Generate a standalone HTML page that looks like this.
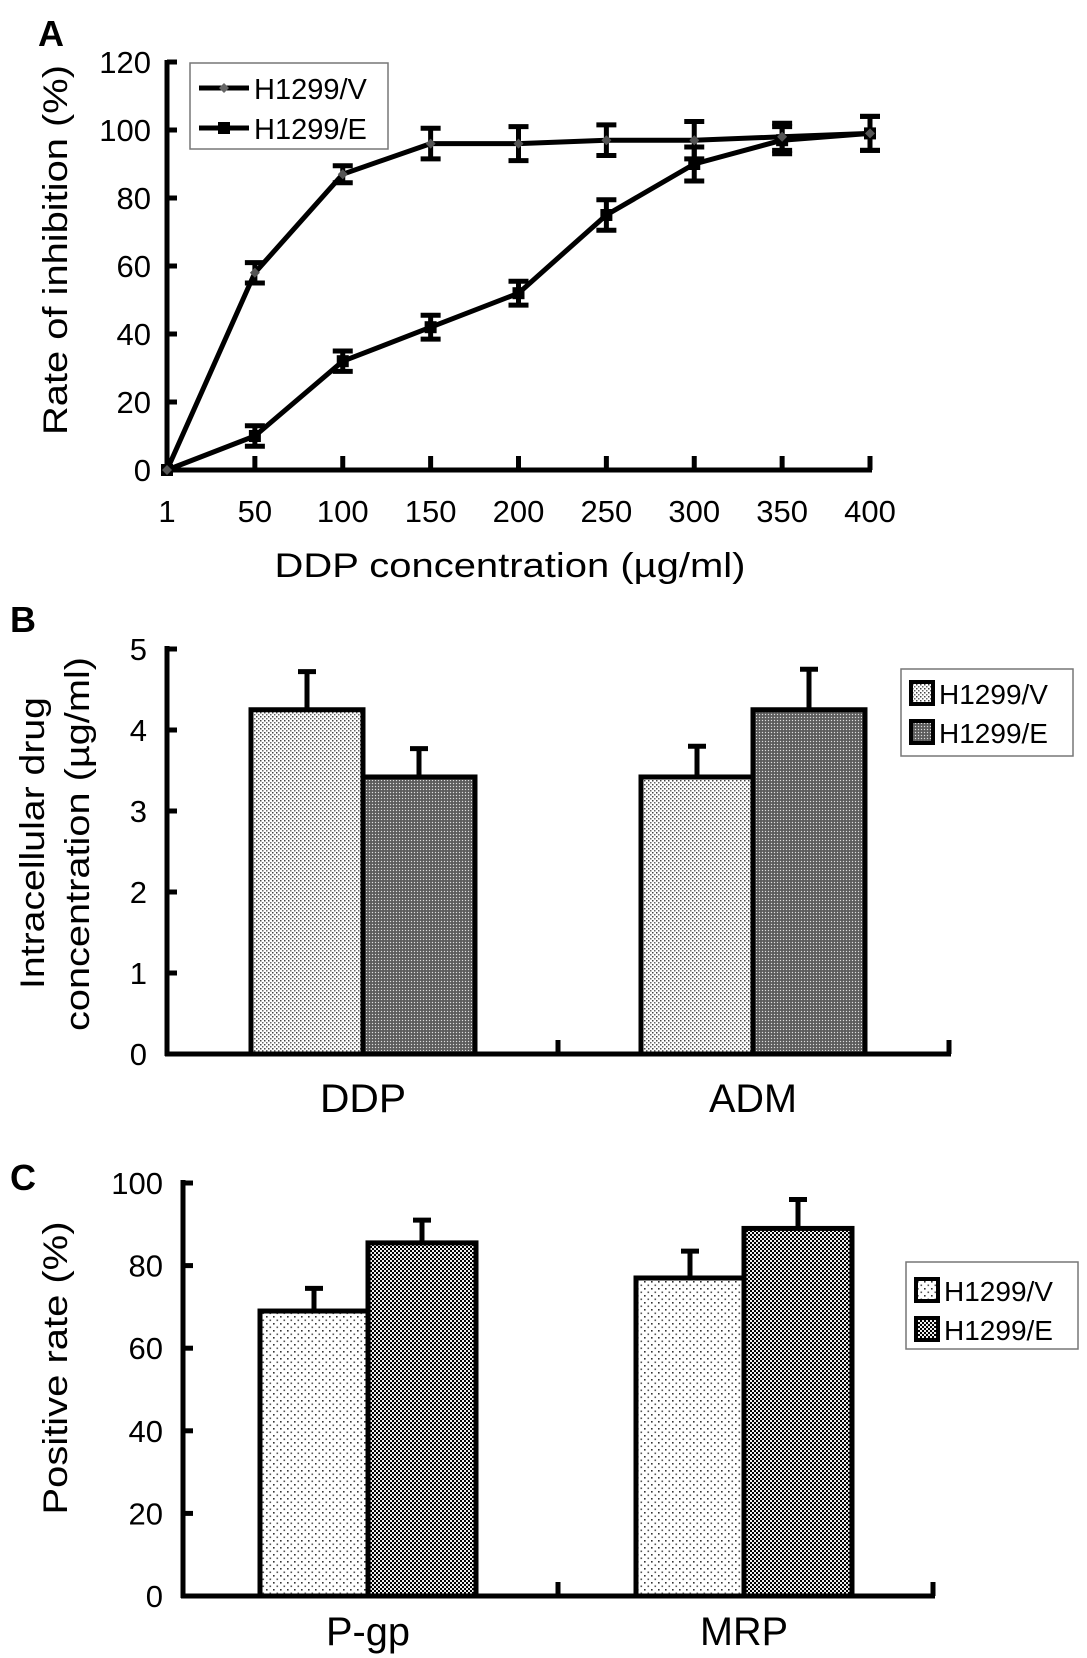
<!DOCTYPE html>
<html><head><meta charset="utf-8"><style>
html,body{margin:0;padding:0;background:#fff;}
svg{display:block;font-family:"Liberation Sans",Arial,sans-serif;}
</style></head><body>
<svg id="fig" width="1087" height="1658" viewBox="0 0 1087 1658" xmlns="http://www.w3.org/2000/svg">
<defs>
<pattern id="pBV" width="4" height="4" patternUnits="userSpaceOnUse"><rect width="4" height="4" fill="#fff"/><rect x="0" y="0" width="1.5" height="1.5" fill="#444"/><rect x="2" y="2" width="1.5" height="1.5" fill="#666"/></pattern>
<pattern id="pBE" width="3" height="3" patternUnits="userSpaceOnUse"><rect width="3" height="3" fill="#6a6a6a"/><rect x="0" y="0" width="1" height="1" fill="#ddd"/><rect x="1.5" y="1.5" width="1" height="1" fill="#333"/></pattern>
<pattern id="pCV" width="7" height="7" patternUnits="userSpaceOnUse"><rect width="7" height="7" fill="#fff"/><rect x="0" y="0" width="1.6" height="1.6" fill="#333"/><rect x="3.5" y="3.5" width="1.6" height="1.6" fill="#555"/></pattern>
<pattern id="pCE" width="4" height="4" patternUnits="userSpaceOnUse"><rect width="4" height="4" fill="#eee"/><rect x="0" y="0" width="2" height="2" fill="#000"/><rect x="2" y="2" width="2" height="2" fill="#000"/></pattern>
</defs>
<g id="panelA"></g>
<g id="panelB"></g>
<g id="panelC"></g>
</svg>
<script>
// ---------- Panel A data ----------
const aCategories = ["1","50","100","150","200","250","300","350","400"];
const aSeriesV = [0,58,87,96,96,97,97,98,99];
const aErrV = [0,3,2.5,4.5,5,4.5,5.5,4,5];
const aSeriesE = [0,10,32,42,52,75,90,97,99];
const aErrE = [0,3,3,3.5,3.5,4.5,5,4,5];
const aYTicks = [0,20,40,60,80,100,120];
// ---------- Panel B data ----------
const bCategories = ["DDP","ADM"];
const bSeriesV = [4.25,3.42];
const bErrV = [0.47,0.38];
const bSeriesE = [3.42,4.25];
const bErrE = [0.35,0.5];
const bYTicks = [0,1,2,3,4,5];
// ---------- Panel C data ----------
const cCategories = ["P-gp","MRP"];
const cSeriesV = [69,77];
const cErrV = [5.5,6.5];
const cSeriesE = [85.5,89];
const cErrE = [5.5,7];
const cYTicks = [0,20,40,60,80,100];

const NS="http://www.w3.org/2000/svg";
function mk(parent,tag,attrs,text){const e=document.createElementNS(NS,tag);for(const k in attrs)e.setAttribute(k,attrs[k]);if(text!==undefined)e.textContent=text;parent.appendChild(e);return e;}

// ===== Panel A =====
(function(){
  const g=document.getElementById('panelA');
  const x0=167,x1=870,y0=470,y1=62;
  const xS=i=>x0+i*(x1-x0)/(aCategories.length-1);
  const yS=v=>y0-(v/120)*(y0-y1);
  let t=mk(g,'text',{x:38,y:46,'font-size':36,'font-weight':'bold'},'A');
  
  
  let ax=mk(g,'line',{x1:x0,y1:yS(120)-2,x2:x0,y2:y0+2,stroke:'#000','stroke-width':5});
  
  
  ax=mk(g,'line',{x1:x0-2,y1:y0,x2:x1+2,y2:y0,stroke:'#000','stroke-width':5});
  
  
  aYTicks.forEach(v=>{
    mk(g,'line',{x1:x0,y1:yS(v),x2:x0+10,y2:yS(v),stroke:'#000','stroke-width':5});
    const tl=mk(g,'text',{x:x0-16,y:yS(v)+11,'font-size':31,'text-anchor':'end'},String(v));
    
    
  });
  aCategories.forEach((c,i)=>{
    mk(g,'line',{x1:xS(i),y1:y0,x2:xS(i),y2:y0-14,stroke:'#000','stroke-width':5});
    const tl=mk(g,'text',{x:xS(i),y:522,'font-size':31,'text-anchor':'middle'},c);
    
    
  });
  t=mk(g,'text',{x:510,y:577,'font-size':34,'text-anchor':'middle',textLength:471,lengthAdjust:'spacingAndGlyphs'},'DDP concentration (µg/ml)');
  
  
  t=mk(g,'text',{x:0,y:0,'font-size':34,'text-anchor':'middle',transform:'translate(67,250) rotate(-90)',textLength:370,lengthAdjust:'spacingAndGlyphs'},'Rate of inhibition (%)');
  
  
  function series(vals,errs,name,marker){
    const pts=vals.map((v,i)=>xS(i)+','+yS(v)).join(' ');
    const l=mk(g,'polyline',{points:pts,fill:'none',stroke:'#000','stroke-width':5,'stroke-linejoin':'round'});
    
    
    vals.forEach((v,i)=>{
      const x=xS(i);
      if(errs[i]>0){
        const eb=mk(g,'path',{d:`M${x},${yS(v+errs[i])}V${yS(v-errs[i])}M${x-10},${yS(v+errs[i])}H${x+10}M${x-10},${yS(v-errs[i])}H${x+10}`,stroke:'#000','stroke-width':5,fill:'none'});
        
        
      }
      let m;
      if(marker==='sq') m=mk(g,'rect',{x:x-6,y:yS(v)-6,width:12,height:12,fill:'#000'});
      else m=mk(g,'path',{d:`M${x},${yS(v)-5}L${x+5},${yS(v)}L${x},${yS(v)+5}L${x-5},${yS(v)}Z`,fill:'#555'});
      
      
    });
  }
  series(aSeriesE,aErrE,'h1299-e','sq');
  series(aSeriesV,aErrV,'h1299-v','dia');
  const lg=mk(g,'g',{});
  
  
  mk(lg,'rect',{x:190,y:63,width:198,height:86,fill:'#fff',stroke:'#777','stroke-width':1.5});
  mk(lg,'line',{x1:199,y1:88,x2:249,y2:88,stroke:'#000','stroke-width':5});
  mk(lg,'path',{d:'M224,83L229,88L224,93L219,88Z',fill:'#666'});
  mk(lg,'line',{x1:199,y1:128,x2:249,y2:128,stroke:'#000','stroke-width':5});
  mk(lg,'rect',{x:218,y:122,width:12,height:12,fill:'#000'});
  t=mk(lg,'text',{x:254,y:99,'font-size':29},'H1299/V');
  
  
  t=mk(lg,'text',{x:254,y:139,'font-size':29},'H1299/E');
  
  
})();

// ===== Bar panels =====
function barPanel(gid,cfg){
  const g=document.getElementById(gid);
  const {x0,x1,y0,yTop,ymax,ticks,cats,sv,ev,se,ee,fillV,fillE,groupStarts,barW,label,labelY,catY,catLen,legend}=cfg;
  const yS=v=>y0-(v/ymax)*(y0-yTop);
  let t=mk(g,'text',{x:label.x,y:label.y,'font-size':36,'font-weight':'bold'},label.t);
  
  
  const mid=(x0+x1)/2;
  cats.forEach((c,i)=>{
    const gx=groupStarts[i];
    [[sv,ev,fillV,'v'],[se,ee,fillE,'e']].forEach((s,j)=>{
      const [vals,errs,fill,nm]=s;
      const bx=gx+j*barW, top=yS(vals[i]);
      const cx=bx+barW/2;
      const eb=mk(g,'path',{d:`M${cx},${top}V${yS(vals[i]+errs[i])}M${cx-9},${yS(vals[i]+errs[i])}H${cx+9}`,stroke:'#000','stroke-width':5,fill:'none'});
      
      
      const r=mk(g,'rect',{x:bx,y:top,width:barW,height:y0-top,fill:fill,stroke:'#000','stroke-width':5});
      
      
    });
    t=mk(g,'text',{x:gx+barW,y:catY,'font-size':40,'text-anchor':'middle',textLength:catLen[i],lengthAdjust:'spacingAndGlyphs'},c);
    
    
  });
  let ax=mk(g,'line',{x1:x0,y1:yS(ymax)-3,x2:x0,y2:y0+2,stroke:'#000','stroke-width':5});
  
  
  ax=mk(g,'line',{x1:x0-2,y1:y0,x2:x1+2,y2:y0,stroke:'#000','stroke-width':5});
  
  
  [mid,x1].forEach(x=>mk(g,'line',{x1:x,y1:y0,x2:x,y2:y0-14,stroke:'#000','stroke-width':5}));
  ticks.forEach(v=>{
    mk(g,'line',{x1:x0,y1:yS(v),x2:x0+10,y2:yS(v),stroke:'#000','stroke-width':5});
    const tl=mk(g,'text',{x:x0-20,y:yS(v)+11,'font-size':31,'text-anchor':'end'},String(v));
    
    
  });
  labelY.forEach(l=>{
    const tl=mk(g,'text',{x:0,y:0,'font-size':34,'text-anchor':'middle',transform:`translate(${l.x},${l.y}) rotate(-90)`,textLength:l.len,lengthAdjust:'spacingAndGlyphs'},l.t);
    
    
  });
  const lg=mk(g,'g',{});
  
  
  mk(lg,'rect',{x:legend.x,y:legend.y,width:172,height:87,fill:'#fff',stroke:'#777','stroke-width':1.5});
  [[fillV,'H1299/V',legend.r1],[fillE,'H1299/E',legend.r2]].forEach(r=>{
    mk(lg,'rect',{x:legend.x+10,y:r[2]-11,width:22,height:22,fill:r[0],stroke:'#000','stroke-width':4});
    const tl=mk(lg,'text',{x:legend.x+38,y:r[2]+11,'font-size':28},r[1]);
    
    
  });
}
barPanel('panelB',{x0:167,x1:949,y0:1054,yTop:649,ymax:5,ticks:bYTicks,cats:bCategories,sv:bSeriesV,ev:bErrV,se:bSeriesE,ee:bErrE,
  fillV:'url(#pBV)',fillE:'url(#pBE)',groupStarts:[251,641],barW:112,label:{x:10,y:632,t:'B'},
  labelY:[{x:44,y:843,t:'Intracellular drug',len:292},{x:89,y:844,t:'concentration (µg/ml)',len:374}],catY:1112,catLen:[86,88],
  legend:{x:901,y:669,r1:693,r2:732}});
barPanel('panelC',{x0:183,x1:933,y0:1596,yTop:1183,ymax:100,ticks:cYTicks,cats:cCategories,sv:cSeriesV,ev:cErrV,se:cSeriesE,ee:cErrE,
  fillV:'url(#pCV)',fillE:'url(#pCE)',groupStarts:[260,636],barW:108,label:{x:10,y:1190,t:'C'},
  labelY:[{x:67,y:1368,t:'Positive rate (%)',len:293}],catY:1645,catLen:[84,88],
  legend:{x:906,y:1262,r1:1290,r2:1329}});
</script>
</body></html>
